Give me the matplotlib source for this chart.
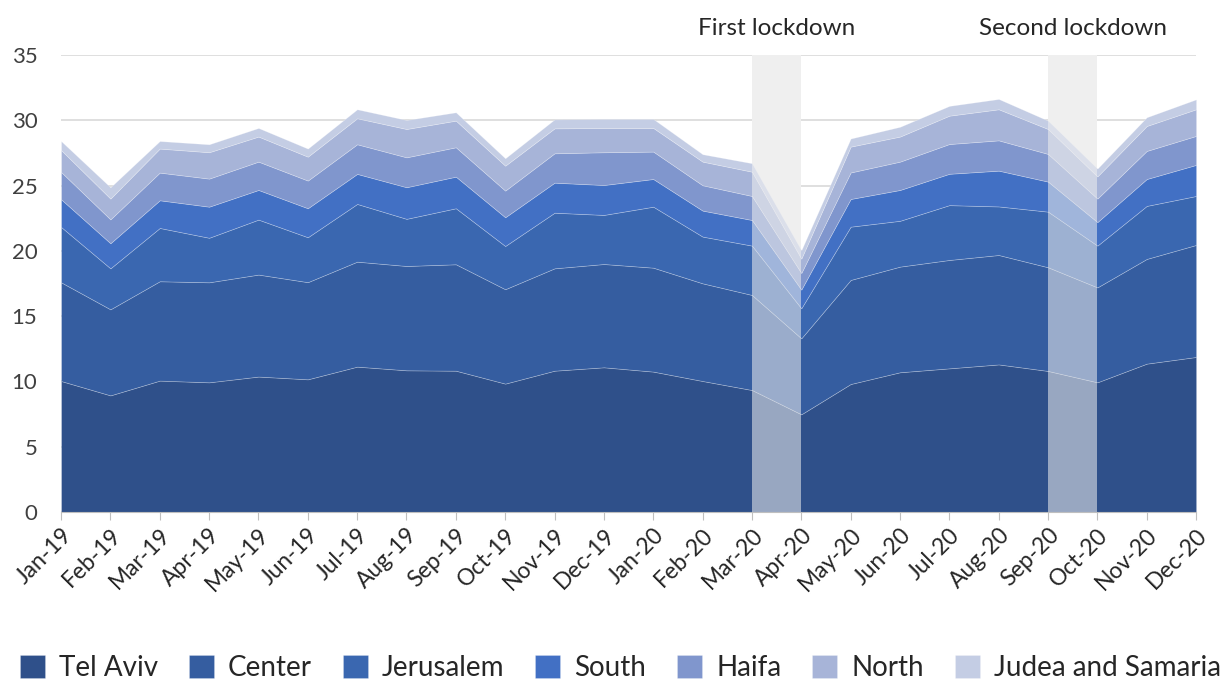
import matplotlib
matplotlib.use("Agg")
import matplotlib.pyplot as plt
import numpy as np

plt.rcParams['font.family'] = ['Lato', 'DejaVu Sans']

months = ["Jan-19", "Feb-19", "Mar-19", "Apr-19", "May-19", "Jun-19", "Jul-19", "Aug-19",
          "Sep-19", "Oct-19", "Nov-19", "Dec-19", "Jan-20", "Feb-20", "Mar-20", "Apr-20",
          "May-20", "Jun-20", "Jul-20", "Aug-20", "Sep-20", "Oct-20", "Nov-20", "Dec-20"]

tel_aviv = [10.03, 8.93, 10.06, 9.93, 10.37, 10.16, 11.13, 10.85, 10.82, 9.83, 10.82, 11.08,
            10.75, 10.03, 9.34, 7.48, 9.80, 10.70, 11.00, 11.30, 10.80, 9.93, 11.36, 11.87]
center = [7.56, 6.59, 7.61, 7.66, 7.81, 7.44, 8.04, 7.99, 8.15, 7.23, 7.84, 7.91,
          7.96, 7.48, 7.28, 5.82, 7.97, 8.09, 8.30, 8.38, 7.94, 7.27, 8.02, 8.58]
jerusalem = [4.24, 3.14, 4.08, 3.41, 4.21, 3.44, 4.42, 3.61, 4.29, 3.31, 4.26, 3.76,
             4.67, 3.58, 3.78, 2.30, 4.08, 3.51, 4.20, 3.72, 4.26, 3.20, 4.06, 3.75]
south = [2.12, 1.92, 2.12, 2.38, 2.27, 2.22, 2.30, 2.42, 2.42, 2.20, 2.30, 2.29,
         2.12, 1.99, 1.96, 1.43, 2.12, 2.36, 2.40, 2.74, 2.30, 1.80, 2.06, 2.38]
haifa = [2.09, 1.83, 2.12, 2.15, 2.17, 2.12, 2.27, 2.29, 2.25, 2.04, 2.25, 2.51,
         2.10, 1.94, 1.84, 1.27, 2.03, 2.17, 2.28, 2.32, 2.12, 1.80, 2.15, 2.22]
north = [1.68, 1.59, 1.84, 2.02, 1.92, 1.83, 1.99, 2.17, 2.04, 1.91, 1.91, 1.86,
         1.81, 1.81, 1.86, 1.10, 1.98, 1.92, 2.17, 2.38, 1.91, 1.70, 1.91, 2.04]
judea_samaria = [0.69, 0.87, 0.58, 0.61, 0.66, 0.62, 0.69, 0.69, 0.64, 0.57, 0.69, 0.69,
                 0.69, 0.57, 0.65, 0.65, 0.62, 0.75, 0.75, 0.79, 0.64, 0.60, 0.67, 0.76]

labels = ["Tel Aviv", "Center", "Jerusalem", "South", "Haifa", "North", "Judea and Samaria"]
colors = ["#2F508A", "#355DA0", "#3A67B0", "#4270C4", "#8096CD", "#A7B4D8", "#C4CDE4"]

lockdowns = [("First lockdown", "Mar-20", "Apr-20"), ("Second lockdown", "Sep-20", "Oct-20")]

x = np.arange(len(months))
fig = plt.figure(figsize=(12.26, 6.82), dpi=100)
ax = fig.add_axes([0.0498, 0.2493, 0.9258, 0.6701])

polys = ax.stackplot(x, tel_aviv, center, jerusalem, south, haifa, north, judea_samaria,
                     colors=colors, labels=labels, edgecolor=(1, 1, 1, 0.3), linewidth=0.5,
                     zorder=2)

for name, start, end in lockdowns:
    i0, i1 = months.index(start), months.index(end)
    ax.axvspan(i0, i1, color="#EFEFEF", alpha=0.55, lw=0, zorder=3)
    ax.axvspan(i0, i1, color="#EFEFEF", lw=0, zorder=1)
    ax.text((i0 + i1) / 2, 36.2, name, ha="center", va="bottom", fontsize=17.5, color="#262626")

ax.set_xlim(0, len(months) - 1)
ax.set_ylim(0, 35)
ax.set_yticks(range(0, 36, 5))
ax.grid(axis="y", color="#D9D9D9", lw=1.2, zorder=0)
ax.set_axisbelow(True)
ax.set_xticks(x)
ax.set_xticklabels(months, rotation=45, ha="right", rotation_mode="anchor")
ax.tick_params(axis="x", length=6, color="#BFBFBF", labelsize=16.5, labelcolor="#262626", pad=3)
ax.tick_params(axis="y", length=0, labelsize=16, labelcolor="#404040", pad=17)
for s in ["top", "right", "left"]:
    ax.spines[s].set_visible(False)
ax.spines["bottom"].set_color("#BFBFBF")

fig.legend(handles=polys, labels=labels, loc="lower center", bbox_to_anchor=(0.506, -0.035),
           ncol=7, frameon=False, fontsize=20, handlelength=0.9, handleheight=0.9,
           handletextpad=0.5, columnspacing=1.12, labelcolor="#262626")

fig.savefig("out.png", dpi=100)
